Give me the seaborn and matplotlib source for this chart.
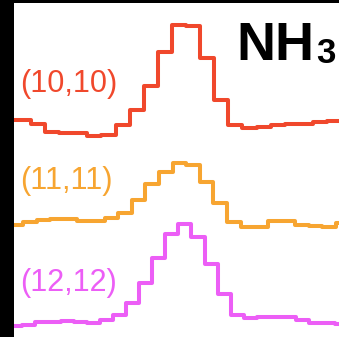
import matplotlib

matplotlib.use("Agg")

import matplotlib.pyplot as plt
import numpy as np
import pandas as pd
import seaborn as sns

# velocity channel grid per transition: first channel centre and width (km/s)
RED_V0, RED_DV = -20.51, 1.735
ORANGE_V0, ORANGE_DV = -19.72, 1.674
MAGENTA_V0, MAGENTA_DV = -19.81, 1.604

# brightness per channel (K), baseline subtracted
red_t = [0.07, 0.07, 0.03, -0.05, -0.06, -0.06, -0.09, -0.08, 0.02, 0.17, 0.41, 0.75,
         1.02, 1.01, 0.69, 0.27, 0.02, -0.01, 0.00, 0.02, 0.03, 0.03, 0.05, 0.06]
orange_t = [0.02, 0.05, 0.07, 0.08, 0.08, 0.06, 0.06, 0.09, 0.14, 0.27, 0.43, 0.55,
            0.64, 0.62, 0.45, 0.24, 0.05, 0.00, 0.00, 0.06, 0.06, 0.02, 0.01, 0.00, 0.04]
magenta_t = [0.01, 0.02, 0.05, 0.05, 0.06, 0.05, 0.04, 0.07, 0.12, 0.24, 0.44, 0.69,
             0.93, 1.03, 0.90, 0.63, 0.33, 0.12, 0.09, 0.10, 0.10, 0.10, 0.07, 0.04,
             0.04, 0.03]

labels = ["(10,10)", "(11,11)", "(12,12)"]
offsets = [2.1, 1.1, 0.1]
colors = ["#F0482C", "#F7A531", "#EC5EF6"]


def spectrum_frame(v0, dv, t, offset):
    """Pad one channel on each side so the steps reach the frame edges."""
    t = np.asarray(t, dtype=float)
    n = len(t)
    v = v0 + dv * np.arange(-1, n + 1)
    y = np.r_[t[0], t, t[-1]] + offset
    return pd.DataFrame({"v": v, "T": y})


sns.set_theme(style="white")
plt.rcParams["font.family"] = ["Liberation Sans", "DejaVu Sans"]

fig = plt.figure(figsize=(3.39, 3.37), dpi=100, facecolor="black")
ax = fig.add_axes([14 / 339, 0, 325 / 339, 334 / 337])
ax.set_facecolor("white")

spectra = [
    (RED_V0, RED_DV, red_t),
    (ORANGE_V0, ORANGE_DV, orange_t),
    (MAGENTA_V0, MAGENTA_DV, magenta_t),
]
label_y = [2.53, 1.56, 0.54]

for (v0, dv, t), off, col, lab, ly in zip(spectra, offsets, colors, labels, label_y):
    df = spectrum_frame(v0, dv, t, off)
    sns.lineplot(data=df, x="v", y="T", ax=ax, color=col, linewidth=2.9,
                 drawstyle="steps-mid", estimator=None, sort=False)
    ax.text(-19.3, ly, lab, color=col, fontsize=22, ha="left", va="center")

ax.text(0.683, 0.829, "NH", transform=ax.transAxes, fontsize=39,
        fontweight="bold", color="black", ha="left", va="baseline")
ax.text(0.930, 0.820, "3", transform=ax.transAxes, fontsize=25,
        fontweight="bold", color="black", ha="left", va="baseline")

ax.set_xlim(-20, 20)
ax.set_ylim(0, 3.34)
ax.set_xticks([])
ax.set_yticks([])
ax.set_xlabel("")
ax.set_ylabel("")
for spine in ax.spines.values():
    spine.set_visible(False)

fig.savefig("out.png", dpi=100, facecolor=fig.get_facecolor())
plt.close(fig)
